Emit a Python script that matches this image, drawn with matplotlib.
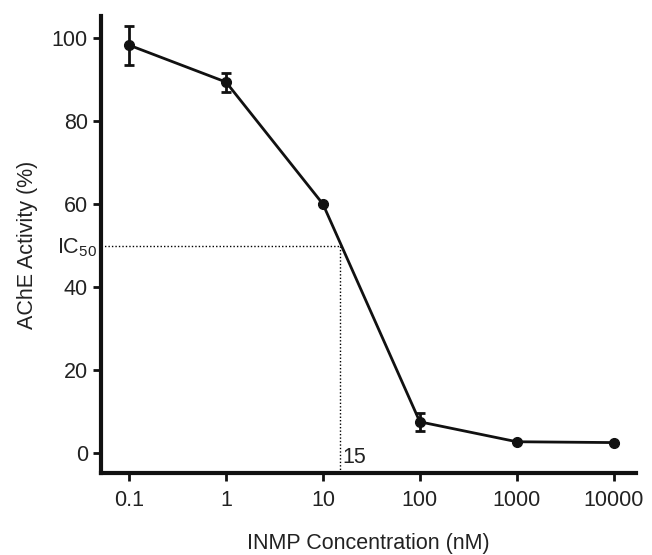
import numpy as np
import matplotlib
matplotlib.use("Agg")
from matplotlib import pyplot as plt

conc = [0.1, 1, 10, 100, 1000, 10000]
activity = [98.3, 89.4, 60.0, 7.5, 2.7, 2.5]
err = [4.7, 2.3, 0.0, 2.1, 0.0, 0.0]
tick_labels = ["0.1", "1", "10", "100", "1000", "10000"]
ic50_conc = 15
ic50_level = 50

plt.rcParams['font.family'] = ['Liberation Sans', 'DejaVu Sans']
plt.rcParams['mathtext.fontset'] = 'custom'
plt.rcParams['mathtext.rm'] = 'Liberation Sans'
plt.rcParams['mathtext.it'] = 'Liberation Sans'

txt = "#222222"
fs = 15.5

fig = plt.figure(figsize=(6.52, 5.55), dpi=100)
ax = fig.add_axes([0.155, 0.148, 0.82, 0.823])

ax.errorbar(conc, activity, yerr=err, color="#111111", linewidth=2,
            marker="o", markersize=7, capsize=3.5, capthick=2, elinewidth=2, zorder=3)

# IC50 guide lines
ax.plot([10 ** -1.289, ic50_conc], [ic50_level, ic50_level], color="black", linestyle=(0, (1, 1.5)), linewidth=1)
ax.plot([ic50_conc, ic50_conc], [-4.8, ic50_level], color="black", linestyle=(0, (1, 1.5)), linewidth=1)
ax.text(ic50_conc * 1.07, -3.6, "15", fontsize=fs, va="bottom", ha="left", color=txt)
ax.text(-0.008, ic50_level - 0.5, r"IC$_{\mathrm{50}}$", fontsize=fs, va="center", ha="right",
        color=txt, transform=ax.get_yaxis_transform())

ax.set_xscale("log")
ax.set_xlim(10 ** -1.289, 10 ** 4.227)
ax.set_ylim(-4.8, 105.3)
ax.set_xticks(conc)
ax.set_xticklabels(tick_labels)
ax.minorticks_off()
ax.set_yticks([0, 20, 40, 60, 80, 100])

for s in ["top", "right"]:
    ax.spines[s].set_visible(False)
for s in ["left", "bottom"]:
    ax.spines[s].set_linewidth(3)
    ax.spines[s].set_color("#111111")
ax.tick_params(axis="both", width=2, length=6, labelsize=fs, color="#111111", labelcolor=txt)
ax.tick_params(axis="x", pad=6)

ax.set_xlabel("INMP Concentration (nM)", fontsize=fs, labelpad=16, color=txt)
ax.set_ylabel("AChE Activity (%)", fontsize=fs, labelpad=10, color=txt)

plt.savefig("out.png", dpi=100)
